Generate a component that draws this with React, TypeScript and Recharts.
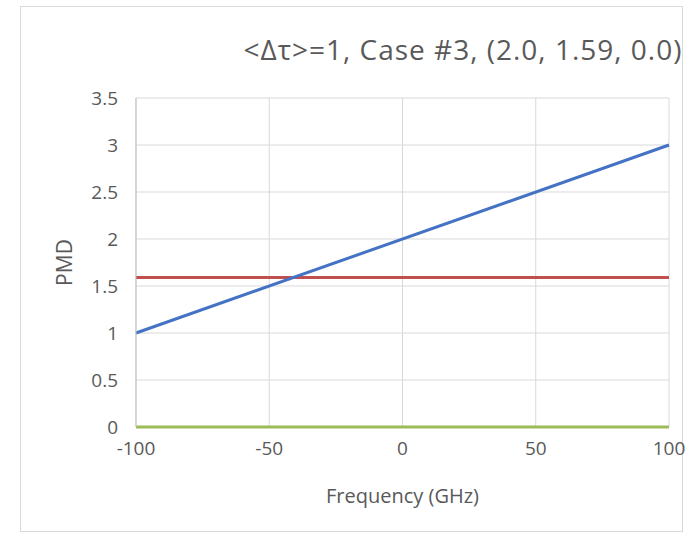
import { LineChart, Line, XAxis, YAxis, CartesianGrid, Label } from 'recharts';

const frequency = [-100, 100];
const pmdLinear = [1.0, 3.0];
const pmdMean = [1.59, 1.59];
const pmdZero = [0.0, 0.0];

const xTicks = [-100, -50, 0, 50, 100];
const yTicks = [0, 0.5, 1, 1.5, 2, 2.5, 3, 3.5];

const data = frequency.map((f, i) => ({
  f,
  linear: pmdLinear[i],
  mean: pmdMean[i],
  zero: pmdZero[i],
}));

const font = "'Open Sans', 'Noto Sans', sans-serif";
const textColor = '#595959';

export default function App() {
  return (
    <div style={{ position: 'absolute', left: 0, top: 0, width: 687, height: 535, background: '#fff', fontFamily: font }}>
      <div
        style={{
          position: 'absolute', left: 20, top: 6, width: 663, height: 526,
          border: '1px solid #d9d9d9', boxSizing: 'border-box',
        }}
      />
      <div
        style={{
          position: 'absolute', left: 202, width: 522, top: 31, textAlign: 'center',
          fontSize: 28, color: textColor, lineHeight: '36px', whiteSpace: 'nowrap', letterSpacing: '1px',
        }}
      >
        {'<Δτ>=1, Case #3, (2.0, 1.59, 0.0)'}
      </div>
      <div style={{ position: 'absolute', left: 0, top: 0 }}>
        <LineChart width={687} height={535} data={data} margin={{ top: 98, right: 18, bottom: 0, left: 0 }}>
          <CartesianGrid stroke="#d9d9d9" strokeWidth={1} />
          <XAxis
            dataKey="f"
            type="number"
            domain={[-100, 100]}
            ticks={xTicks}
            height={108}
            axisLine={false}
            tickLine={false}
            tickSize={0}
            tickMargin={15}
            tick={{ fill: textColor, fontSize: 19, fontFamily: font }}
          >
            <Label value="Frequency (GHz)" position="insideBottom" offset={32} fill={textColor} fontSize={20} fontFamily={font} />
          </XAxis>
          <YAxis
            type="number"
            domain={[0, 3.5]}
            ticks={yTicks}
            width={136}
            axisLine={{ stroke: '#bfbfbf' }}
            tickLine={false}
            tickSize={0}
            tickMargin={18}
            tick={{ fill: textColor, fontSize: 19, fontFamily: font }}
          >
            <Label value="PMD" angle={-90} position="center" dx={-3} fill={textColor} fontSize={21} fontFamily={font} />
          </YAxis>
          <Line type="linear" dataKey="zero" stroke="#9BBB59" strokeWidth={3} dot={false} isAnimationActive={false} />
          <Line type="linear" dataKey="mean" stroke="#C0504D" strokeWidth={3} dot={false} isAnimationActive={false} />
          <Line type="linear" dataKey="linear" stroke="#4472C4" strokeWidth={3} dot={false} isAnimationActive={false} />
        </LineChart>
      </div>
    </div>
  );
}
